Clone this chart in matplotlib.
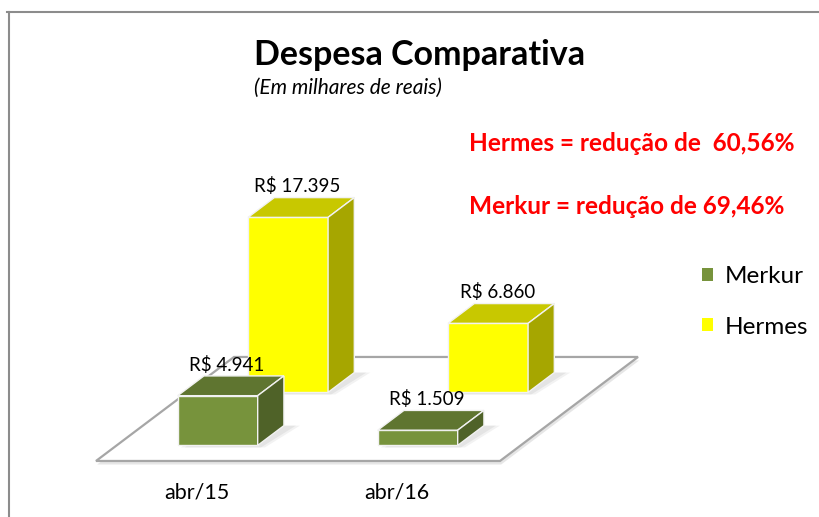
import matplotlib.pyplot as plt
from matplotlib.patches import Polygon, Patch
from matplotlib.lines import Line2D

plt.rcParams["font.family"] = ["Lato", "DejaVu Sans"]

categories = ["abr/15", "abr/16"]
series = ["Merkur", "Hermes"]
merkur = [4.941, 1.509]
hermes = [17.395, 6.860]
value_labels = {
    "Merkur": ["R$ 4.941", "R$ 1.509"],
    "Hermes": ["R$ 17.395", "R$ 6.860"],
}
notes = ["Hermes = redução de  60,56%", "Merkur = redução de 69,46%"]

# oblique projection of the floor depth (x units per depth, value units per depth)
DX, DZ = 0.69, 10.34
BAR_W = 0.4
BAR_D = 0.19
styles = {
    "Merkur": dict(z=0.15, front="#77933C", top="#5F7530", side="#4F6228"),
    "Hermes": dict(z=0.66, front="#FFFF00", top="#C8C800", side="#A6A600"),
}


def proj(x, z, v):
    return (x + z * DX, v + z * DZ)


fig = plt.figure(figsize=(8.19, 5.17), dpi=100)
ax = fig.add_axes([0, 0, 1, 1])
ax.set_xlim(-0.985, 3.11)
ax.set_ylim(-5.57, 45.83)
ax.axis("off")

xs = list(range(len(categories)))

# floor
floor = [proj(-0.505, 0, 0), proj(1.515, 0, 0), proj(1.515, 1, 0), proj(-0.505, 1, 0)]
ax.add_patch(Polygon([(px + 0.006, py - 0.35) for px, py in floor], closed=True,
                     facecolor="#e6e6e6", edgecolor="none", zorder=0))
ax.add_patch(Polygon(floor, closed=True, facecolor="white",
                     edgecolor="#a6a6a6", lw=1.6, zorder=1))

z_order = 2
for name, vals in [("Hermes", hermes), ("Merkur", merkur)]:
    st = styles[name]
    z0, z1 = st["z"], st["z"] + BAR_D
    for x, v, lab in zip(xs, vals, value_labels[name]):
        l, r = x - BAR_W / 2, x + BAR_W / 2
        # soft shadow on the floor
        for k, a in [(0.05, 0.10), (0.03, 0.12)]:
            sh = [proj(l + k, z0 - 0.02, 0), proj(r + k, z0 - 0.02, 0),
                  proj(r + k + 0.03, z1, 0), proj(l + k, z1, 0)]
            ax.add_patch(Polygon(sh, closed=True, facecolor="#808080",
                                 alpha=a, edgecolor="none", zorder=z_order))
        fx, fy = proj(l, z0, 0)
        ax.bar(fx, v, width=BAR_W, bottom=fy, align="edge",
               color=st["front"], edgecolor="#f2f2f2", lw=1.0, zorder=z_order + 1)
        top = [proj(l, z0, v), proj(r, z0, v), proj(r, z1, v), proj(l, z1, v)]
        side = [proj(r, z0, 0), proj(r, z1, 0), proj(r, z1, v), proj(r, z0, v)]
        ax.add_patch(Polygon(top, closed=True, facecolor=st["top"],
                             edgecolor="#f2f2f2", lw=1.0, zorder=z_order + 1))
        ax.add_patch(Polygon(side, closed=True, facecolor=st["side"],
                             edgecolor="#f2f2f2", lw=1.0, zorder=z_order + 1))
        tx, ty = proj(x, (z0 + z1) / 2, v)
        ax.text(tx - 0.02, ty + 1.2, lab, ha="center", va="bottom",
                fontsize=13.5, color="black", zorder=10)
    z_order += 3

for x, c in zip(xs, categories):
    ax.text(x, -3.1, c, ha="center", va="center", fontsize=15.5)

fig.text(254 / 819, 1 - 55 / 517, "Despesa Comparativa", ha="left", va="center",
         fontsize=24.5, fontweight="bold")
fig.text(254 / 819, 1 - 88 / 517, "(Em milhares de reais)", ha="left", va="center",
         fontsize=15, style="italic")
for i, n in enumerate(notes):
    fig.text(469 / 819, 1 - (143 + 64 * i) / 517, n, ha="left", va="center",
             fontsize=17.6, fontweight="bold", color="#ff0000")

handles = [Patch(facecolor=styles[s]["front"], edgecolor="none", label=s) for s in series]
fig.legend(handles=handles, loc="center left", bbox_to_anchor=(680 / 819, 1 - 302 / 517),
           frameon=False, fontsize=17.5, handlelength=0.45, handleheight=0.45,
           handletextpad=0.5, labelspacing=1.2)

fig.add_artist(Line2D([7 / 819, 1], [1 - 11.5 / 517] * 2, color="#8c8c8c", lw=1.5))
fig.add_artist(Line2D([9 / 819] * 2, [1 - 11.5 / 517, 0], color="#8c8c8c", lw=1.5))

fig.savefig("out.png", dpi=100)
